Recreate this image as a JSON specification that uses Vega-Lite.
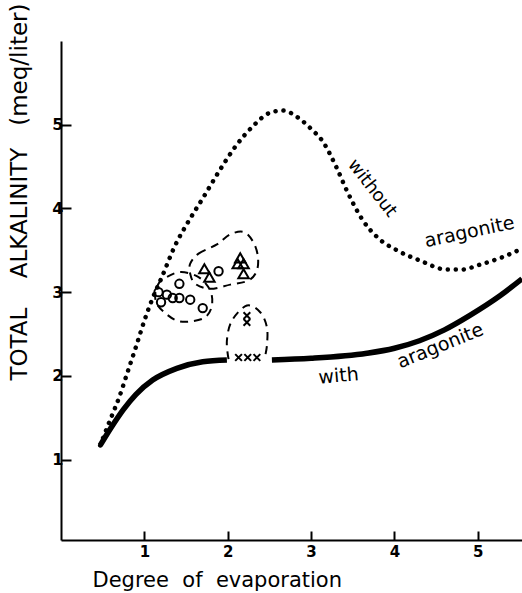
{
  "$schema": "https://vega.github.io/schema/vega-lite/v6.json",
  "width": 461,
  "height": 499,
  "autosize": {"type": "none"},
  "padding": {"left": 61, "top": 41, "right": 0, "bottom": 53},
  "background": "white",
  "config": {"view": {"stroke": null}, "font": "DejaVu Sans"},
  "datasets": {
    "without": [
      {"x": 0.47, "y": 1.17}, {"x": 0.58, "y": 1.45}, {"x": 0.7, "y": 1.75}, {"x": 0.8, "y": 2.05},
      {"x": 0.9, "y": 2.35}, {"x": 1.0, "y": 2.66}, {"x": 1.1, "y": 2.93}, {"x": 1.21, "y": 3.18},
      {"x": 1.37, "y": 3.56}, {"x": 1.52, "y": 3.83}, {"x": 1.7, "y": 4.12}, {"x": 1.9, "y": 4.45},
      {"x": 2.1, "y": 4.75}, {"x": 2.3, "y": 4.98}, {"x": 2.5, "y": 5.14}, {"x": 2.66, "y": 5.17},
      {"x": 2.85, "y": 5.08}, {"x": 3.0, "y": 4.95}, {"x": 3.14, "y": 4.8}, {"x": 3.3, "y": 4.5},
      {"x": 3.43, "y": 4.21}, {"x": 3.62, "y": 3.86}, {"x": 3.8, "y": 3.65}, {"x": 4.03, "y": 3.5},
      {"x": 4.3, "y": 3.38}, {"x": 4.63, "y": 3.27}, {"x": 4.8, "y": 3.27}, {"x": 5.03, "y": 3.33},
      {"x": 5.3, "y": 3.42}, {"x": 5.53, "y": 3.52}
    ],
    "with": [
      {"seg": "a", "x": 0.47, "y": 1.17}, {"seg": "a", "x": 0.6, "y": 1.38}, {"seg": "a", "x": 0.75, "y": 1.6},
      {"seg": "a", "x": 0.9, "y": 1.78}, {"seg": "a", "x": 1.1, "y": 1.95}, {"seg": "a", "x": 1.39, "y": 2.09},
      {"seg": "a", "x": 1.7, "y": 2.17}, {"seg": "a", "x": 1.99, "y": 2.19},
      {"seg": "b", "x": 2.53, "y": 2.19}, {"seg": "b", "x": 3.0, "y": 2.21}, {"seg": "b", "x": 3.67, "y": 2.27},
      {"seg": "b", "x": 4.0, "y": 2.33}, {"seg": "b", "x": 4.3, "y": 2.42}, {"seg": "b", "x": 4.6, "y": 2.55},
      {"seg": "b", "x": 4.9, "y": 2.72}, {"seg": "b", "x": 5.27, "y": 2.96}, {"seg": "b", "x": 5.53, "y": 3.16}
    ],
    "points": [
      {"kind": "circle", "x": 1.17, "y": 3.0}, {"kind": "circle", "x": 1.2, "y": 2.88},
      {"kind": "circle", "x": 1.27, "y": 2.97}, {"kind": "circle", "x": 1.34, "y": 2.93},
      {"kind": "circle", "x": 1.42, "y": 2.93}, {"kind": "circle", "x": 1.55, "y": 2.91},
      {"kind": "circle", "x": 1.42, "y": 3.1}, {"kind": "circle", "x": 1.7, "y": 2.81},
      {"kind": "circle", "x": 1.89, "y": 3.25},
      {"kind": "triangle", "x": 1.72, "y": 3.28}, {"kind": "triangle", "x": 1.78, "y": 3.18},
      {"kind": "triangle", "x": 2.12, "y": 3.34}, {"kind": "triangle", "x": 2.19, "y": 3.34},
      {"kind": "triangle", "x": 2.15, "y": 3.41}, {"kind": "triangle", "x": 2.19, "y": 3.22},
      {"kind": "x", "x": 2.23, "y": 2.72}, {"kind": "x", "x": 2.23, "y": 2.64},
      {"kind": "x", "x": 2.13, "y": 2.22}, {"kind": "x", "x": 2.24, "y": 2.22}, {"kind": "x", "x": 2.35, "y": 2.22}
    ],
    "loops": [
      {"g": "c", "i": 1, "x": 1.23, "y": 3.16}, {"g": "c", "i": 2, "x": 1.43, "y": 3.24},
      {"g": "c", "i": 3, "x": 1.65, "y": 3.18}, {"g": "c", "i": 4, "x": 1.79, "y": 3.02},
      {"g": "c", "i": 5, "x": 1.81, "y": 2.84}, {"g": "c", "i": 6, "x": 1.73, "y": 2.7},
      {"g": "c", "i": 7, "x": 1.55, "y": 2.65}, {"g": "c", "i": 8, "x": 1.39, "y": 2.66},
      {"g": "c", "i": 9, "x": 1.25, "y": 2.75}, {"g": "c", "i": 10, "x": 1.15, "y": 2.86},
      {"g": "c", "i": 11, "x": 1.13, "y": 2.98}, {"g": "c", "i": 12, "x": 1.17, "y": 3.1},
      {"g": "t", "i": 1, "x": 1.55, "y": 3.34}, {"g": "t", "i": 2, "x": 1.65, "y": 3.46},
      {"g": "t", "i": 3, "x": 1.87, "y": 3.57}, {"g": "t", "i": 4, "x": 2.03, "y": 3.69},
      {"g": "t", "i": 5, "x": 2.19, "y": 3.72}, {"g": "t", "i": 6, "x": 2.3, "y": 3.61},
      {"g": "t", "i": 7, "x": 2.36, "y": 3.44}, {"g": "t", "i": 8, "x": 2.35, "y": 3.26},
      {"g": "t", "i": 9, "x": 2.25, "y": 3.14}, {"g": "t", "i": 10, "x": 2.03, "y": 3.09},
      {"g": "t", "i": 11, "x": 1.79, "y": 3.04}, {"g": "t", "i": 12, "x": 1.61, "y": 3.1},
      {"g": "t", "i": 13, "x": 1.55, "y": 3.22}
    ],
    "xloop": [
      {"i": 1, "x": 2.01, "y": 2.2}, {"i": 2, "x": 1.99, "y": 2.42}, {"i": 3, "x": 2.05, "y": 2.66},
      {"i": 4, "x": 2.23, "y": 2.84}, {"i": 5, "x": 2.39, "y": 2.76}, {"i": 6, "x": 2.47, "y": 2.58},
      {"i": 7, "x": 2.47, "y": 2.36}, {"i": 8, "x": 2.44, "y": 2.2}
    ]
  },
  "encoding": {
    "x": {
      "field": "x", "type": "quantitative",
      "scale": {"domain": [0, 5.53], "nice": false, "zero": false},
      "axis": {
        "title": "Degree\u00a0\u00a0of\u00a0\u00a0evaporation", "values": [1, 2, 3, 4, 5], "grid": false,
        "domainColor": "black", "domainWidth": 2, "tickColor": "black", "tickWidth": 2, "tickSize": -9,
        "labelPadding": 13, "labelFontSize": 15, "labelFontWeight": "bold", "labelColor": "black",
        "titleFontSize": 21, "titleFontWeight": "normal", "titleColor": "black",
        "titleX": 31, "titleY": 40, "titleAlign": "left", "titleBaseline": "middle"
      }
    },
    "y": {
      "field": "y", "type": "quantitative",
      "scale": {"domain": [0.04, 6], "nice": false, "zero": false},
      "axis": {
        "title": "TOTAL\u00a0\u00a0\u00a0\u00a0ALKALINITY\u00a0\u00a0\u00a0(meq/liter)", "values": [1, 2, 3, 4, 5], "grid": false,
        "domainColor": "black", "domainWidth": 2, "tickColor": "black", "tickWidth": 2, "tickSize": -10,
        "labelPadding": 8, "labelFontSize": 16, "labelFontWeight": "bold", "labelColor": "black",
        "titleFontSize": 23, "titleFontWeight": "normal", "titleColor": "black",
        "titleAngle": -90, "titleX": -42, "titleY": -38, "titleAlign": "right", "titleBaseline": "middle"
      }
    }
  },
  "layer": [
    {
      "data": {"name": "without"},
      "mark": {"type": "line", "interpolate": "monotone", "color": "black", "strokeWidth": 4.5, "strokeCap": "round", "strokeDash": [0.1, 7.9]}
    },
    {
      "data": {"name": "with"},
      "mark": {"type": "line", "interpolate": "monotone", "color": "black", "strokeWidth": 5.5, "strokeCap": "butt"},
      "encoding": {"detail": {"field": "seg"}}
    },
    {
      "data": {"name": "loops"},
      "mark": {"type": "line", "interpolate": "cardinal-closed", "color": "black", "strokeWidth": 2, "strokeDash": [8, 6]},
      "encoding": {"detail": {"field": "g"}, "order": {"field": "i", "type": "quantitative"}}
    },
    {
      "data": {"name": "xloop"},
      "mark": {"type": "line", "interpolate": "cardinal", "color": "black", "strokeWidth": 2, "strokeDash": [8, 6]},
      "encoding": {"order": {"field": "i", "type": "quantitative"}}
    },
    {
      "data": {"name": "points"},
      "transform": [{"filter": "datum.kind == 'circle'"}],
      "mark": {"type": "point", "shape": "circle", "filled": false, "color": "black", "strokeWidth": 2, "size": 70, "opacity": 1}
    },
    {
      "data": {"name": "points"},
      "transform": [{"filter": "datum.kind == 'triangle'"}],
      "mark": {"type": "point", "shape": "triangle-up", "filled": false, "color": "black", "strokeWidth": 2, "size": 110, "opacity": 1}
    },
    {
      "data": {"name": "points"},
      "transform": [{"filter": "datum.kind == 'x'"}],
      "mark": {"type": "point", "shape": "M-1,-1L1,1M1,-1L-1,1", "filled": false, "color": "black", "strokeWidth": 2, "size": 45, "opacity": 1}
    },
    {
      "data": {"values": [{"x": 3.73, "y": 4.24, "t": "without"}]},
      "mark": {"type": "text", "angle": 52, "fontSize": 18, "color": "black", "align": "center", "baseline": "middle"},
      "encoding": {"text": {"field": "t"}}
    },
    {
      "data": {"values": [{"x": 4.9, "y": 3.72, "t": "aragonite"}]},
      "mark": {"type": "text", "angle": -12, "fontSize": 19, "color": "black", "align": "center", "baseline": "middle"},
      "encoding": {"text": {"field": "t"}}
    },
    {
      "data": {"values": [{"x": 3.33, "y": 2.0, "t": "with"}]},
      "mark": {"type": "text", "angle": -5, "fontSize": 19, "color": "black", "align": "center", "baseline": "middle"},
      "encoding": {"text": {"field": "t"}}
    },
    {
      "data": {"values": [{"x": 4.55, "y": 2.36, "t": "aragonite"}]},
      "mark": {"type": "text", "angle": -22, "fontSize": 19, "color": "black", "align": "center", "baseline": "middle"},
      "encoding": {"text": {"field": "t"}}
    }
  ]
}
